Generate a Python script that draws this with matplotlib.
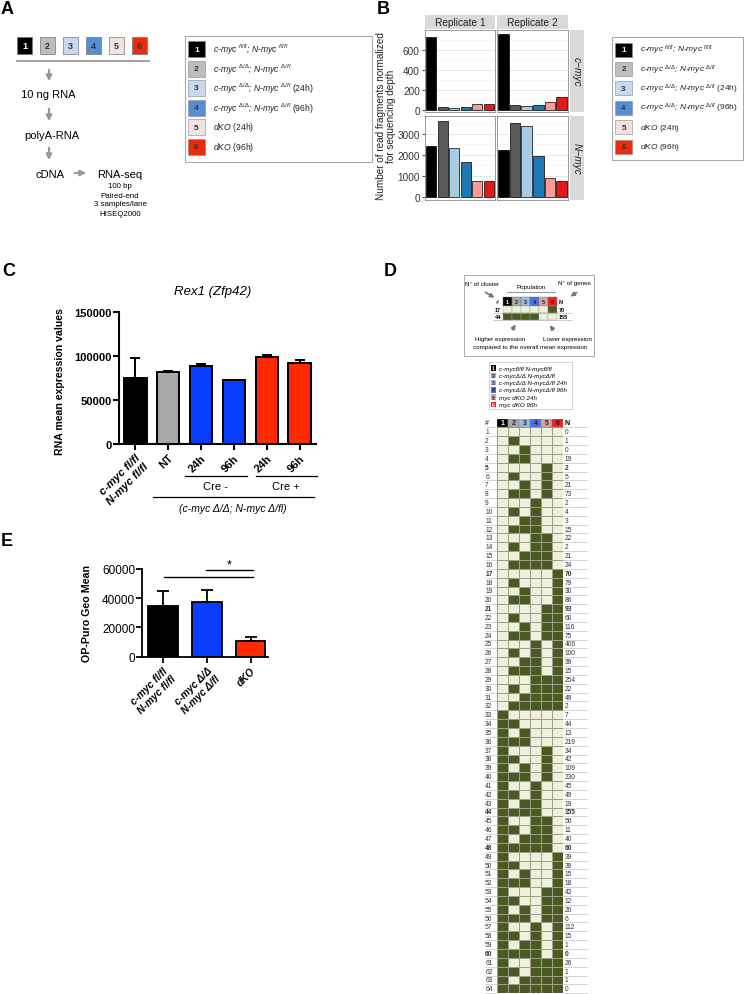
import numpy as np
import matplotlib
matplotlib.use("Agg")
import matplotlib.pyplot as plt
from matplotlib.patches import Rectangle
from matplotlib.colors import ListedColormap

# =========================
# SETTINGS
# =========================
W, H = 744, 995

plt.rcParams["font.family"] = ["Liberation Sans", "DejaVu Sans"]
plt.rcParams["mathtext.fontset"] = "custom"
plt.rcParams["mathtext.it"] = "Liberation Sans:italic"
plt.rcParams["mathtext.rm"] = "Liberation Sans"
plt.rcParams["mathtext.bf"] = "Liberation Sans:bold"

# =========================
# DATA
# =========================
GROUP_IDS = ["1", "2", "3", "4", "5", "6"]
A_COLORS = ["#000000", "#bdbdbd", "#c6d9f1", "#558ed5", "#f2e3e3", "#ee2a0c"]
GENOTYPE_LABELS = [
    r"c-myc $^{fl/fl}$; N-myc $^{fl/fl}$",
    r"c-myc $^{\Delta/\Delta}$; N-myc $^{\Delta/fl}$",
    r"c-myc $^{\Delta/\Delta}$; N-myc $^{\Delta/fl}$ $\mathrm{(24h)}$",
    r"c-myc $^{\Delta/\Delta}$; N-myc $^{\Delta/fl}$ $\mathrm{(96h)}$",
    r"dKO $\mathrm{(24h)}$",
    r"dKO $\mathrm{(96h)}$",
]

B_REPLICATES = ["Replicate 1", "Replicate 2"]
B_GENES = ["c\u2212myc", "N\u2212myc"]
B_CMYC_REP1 = [729, 25, 22, 24, 56, 60]
B_CMYC_REP2 = [759, 46, 36, 50, 73, 126]
B_NMYC_REP1 = [2430, 3620, 2300, 1635, 760, 730]
B_NMYC_REP2 = [2240, 3490, 3365, 1950, 870, 760]
B_COLORS = ["#000000", "#5a5a5a", "#a6cbe3", "#1f78b4", "#fb9a99", "#e31a1c"]

C_LABELS = ["c-myc fl/fl\nN-myc fl/fl", "NT", "24h", "96h", "24h", "96h"]
C_MEANS = [74700, 82200, 89400, 73100, 98900, 91700]
C_ERR = [22700, 1100, 1500, 0, 1900, 4500]
C_COLORS = ["#000000", "#a9a9ab", "#0a3cff", "#0a3cff", "#ff2a00", "#ff2a00"]

E_LABELS = ["c-myc fl/fl\nN-myc fl/fl", "c-myc \u0394/\u0394\nN-myc \u0394/fl", "dKO"]
E_MEANS = [34700, 37600, 10900]
E_ERR = [10300, 8000, 2400]
E_COLORS = ["#000000", "#0a3cff", "#ff2a00"]

D_COLORS = ["#000000", "#a8a8a8", "#9db7e3", "#4271ea", "#d9a3a3", "#ef1f22"]
D_LEGEND = [
    "c-mycfl/fl N-mycfl/fl",
    "c-myc\u0394/\u0394 N-myc\u0394/fl",
    "c-myc\u0394/\u0394 N-myc\u0394/fl 24h",
    "c-myc\u0394/\u0394 N-myc\u0394/fl 96h",
    "myc dKO 24h",
    "myc dKO 96h",
]

# columns 1..6 of each cluster row, 1 = dark cell
HEAT_PATTERNS = [
    "000000", "010000", "001000", "011000", "000010", "010010", "001010", "011010",
    "000100", "010100", "001100", "011100", "000110", "010110", "001110", "011110",
    "000001", "010001", "001001", "011001", "000011", "010011", "001011", "011011",
    "000101", "010101", "001101", "011101", "000111", "010111", "001111", "011111",
    "100000", "110000", "101000", "111000", "100010", "110010", "101010", "111010",
    "100100", "110100", "101100", "111100", "100110", "110110", "101110", "111110",
    "100001", "110001", "101001", "111001", "100011", "110011", "101011", "111011",
    "100101", "110101", "101101", "111101", "100111", "110111", "101111", "111111",
]
HEAT_N = [
    0, 1, 0, 19, 2, 5, 21, 73, 2, 4, 3, 15, 22, 2, 21, 24,
    70, 79, 30, 86, 93, 60, 116, 75, 406, 100, 39, 15, 254, 22, 49, 2,
    7, 44, 13, 219, 34, 42, 109, 230, 45, 49, 19, 155, 56, 11, 40, 60,
    39, 39, 15, 18, 42, 12, 20, 6, 112, 15, 1, 0, 26, 1, 1, 0,
]
HEAT_BOLD = [5, 17, 21, 44, 48, 60]

GREEN_DARK = "#4b5a22"
GREEN_LIGHT = "#eef0dc"


# =========================
# HELPERS
# =========================
def px_axes(fig, x0, y0, x1, y1):
    return fig.add_axes([x0 / W, 1 - y1 / H, (x1 - x0) / W, (y1 - y0) / H])


def down_arrow(ax, x, y0, y1, color="#999999"):
    ax.annotate("", xy=(x, y1), xytext=(x, y0),
                arrowprops=dict(arrowstyle="-|>", color=color, lw=1.6, mutation_scale=8))


fig = plt.figure(figsize=(W / 100, H / 100), dpi=100)
canvas = fig.add_axes([0, 0, 1, 1])
canvas.set_xlim(0, W)
canvas.set_ylim(H, 0)
canvas.axis("off")

for lab, (lx, ly) in zip("ABCDE", [(7, 9), (383, 9), (9, 272), (390, 272), (7, 541)]):
    canvas.text(lx, ly, lab, fontsize=13, fontweight="bold", ha="center", va="center")

# =========================
# PANEL A
# =========================
for i, (gid, col) in enumerate(zip(GROUP_IDS, A_COLORS)):
    x0 = 17 + i * 23
    canvas.add_patch(Rectangle((x0, 38), 15, 17, facecolor=col, edgecolor="#777777", lw=0.5))
    canvas.text(x0 + 7.5, 46.5, gid, ha="center", va="center", fontsize=6.5,
                fontweight="bold", color="white" if i == 0 else "#333333")
canvas.plot([17, 149], [62, 62], color="#999999", lw=1.3)
down_arrow(canvas, 49, 68, 85)
canvas.text(48.5, 95, "10 ng RNA", ha="center", va="center", fontsize=8)
down_arrow(canvas, 49, 107, 125)
canvas.text(52, 136, "polyA-RNA", ha="center", va="center", fontsize=8)
down_arrow(canvas, 49, 146, 164)
canvas.text(50, 175, "cDNA", ha="center", va="center", fontsize=8)
canvas.annotate("", xy=(89, 174), xytext=(72, 174),
                arrowprops=dict(arrowstyle="-|>", color="#999999", lw=1.6, mutation_scale=8))
canvas.text(120, 175, "RNA-seq", ha="center", va="center", fontsize=8)
for k, line in enumerate(["100 bp", "Paired-end", "3 samples/lane", "HISEQ2000"]):
    canvas.text(120, 187 + k * 9, line, ha="center", va="center", fontsize=5.7)

# legend A
canvas.add_patch(Rectangle((185, 37), 187, 126, fill=False, edgecolor="#aaaaaa", lw=0.8))
for i, (gid, col) in enumerate(zip(GROUP_IDS, A_COLORS)):
    yc = 50 + i * 19.5
    canvas.add_patch(Rectangle((188, yc - 8), 17, 16, facecolor=col, edgecolor="#888888", lw=0.4))
    canvas.text(196.5, yc, gid, ha="center", va="center", fontsize=6, fontweight="bold",
                color="white" if i == 0 else "#333333")
    canvas.text(213, yc, GENOTYPE_LABELS[i], ha="left", va="center", fontsize=6.2,
                style="italic", color="#222222")

# =========================
# PANEL B
# =========================
B_VALUES = [[B_CMYC_REP1, B_CMYC_REP2], [B_NMYC_REP1, B_NMYC_REP2]]
panel_x = [(425, 495), (497, 568)]
panel_y = [(31, 113), (117, 201)]
zero_px = [110.7, 197.7]
px_per_unit = [0.1, 0.021]
yticks_b = [[0, 200, 400, 600], [0, 1000, 2000, 3000]]
xpos = np.arange(1, len(B_COLORS) + 1)

for r in range(2):
    y0, y1 = panel_y[r]
    lo = -(y1 - zero_px[r]) / px_per_unit[r]
    hi = (zero_px[r] - y0) / px_per_unit[r]
    step = yticks_b[r][1] - yticks_b[r][0]
    for c in range(2):
        x0, x1 = panel_x[c]
        ax = px_axes(fig, x0, y0, x1, y1)
        ax.bar(xpos, B_VALUES[r][c], width=0.9, color=B_COLORS, edgecolor="black",
               linewidth=0.5, zorder=3)
        ax.set_xlim(0.45, 6.55)
        ax.set_ylim(lo, hi)
        ax.set_yticks(yticks_b[r])
        ax.set_yticks([t + step / 2 for t in yticks_b[r]], minor=True)
        ax.grid(axis="y", which="major", color="#e3e3e3", lw=0.6, zorder=0)
        ax.grid(axis="y", which="minor", color="#f2f2f2", lw=0.4, zorder=0)
        ax.set_xticks([])
        for sp in ax.spines.values():
            sp.set_color("#8a8a8a")
            sp.set_linewidth(0.6)
        ax.tick_params(axis="y", which="minor", length=0)
        if c == 0:
            ax.tick_params(axis="y", labelsize=7.2, length=2.5, color="#555555", pad=1.2,
                           labelcolor="#333333")
        else:
            ax.tick_params(axis="y", left=False, labelleft=False)

for c, name in enumerate(B_REPLICATES):
    x0, x1 = panel_x[c]
    canvas.add_patch(Rectangle((x0, 16), x1 - x0, 13.5, facecolor="#d9d9d9", edgecolor="none"))
    canvas.text((x0 + x1) / 2, 22.8, name, ha="center", va="center", fontsize=7.3, color="#222222")
for r, gene in enumerate(B_GENES):
    y0, y1 = panel_y[r]
    canvas.add_patch(Rectangle((570, y0), 14, y1 - y0, facecolor="#d9d9d9", edgecolor="none"))
    canvas.text(577, (y0 + y1) / 2, gene, ha="center", va="center", fontsize=7.3,
                rotation=-90, style="italic", color="#222222")
canvas.text(386, 116, "Number of read fragments normalized\nfor sequencing depth",
            rotation=90, ha="center", va="center", fontsize=7.2, linespacing=0.95, color="#222222")

# legend B
canvas.add_patch(Rectangle((612, 38), 131, 123, fill=False, edgecolor="#aaaaaa", lw=0.8))
for i, (gid, col) in enumerate(zip(GROUP_IDS, A_COLORS)):
    yc = 50.5 + i * 19.4
    canvas.add_patch(Rectangle((615, yc - 7), 17, 14, facecolor=col, edgecolor="#888888", lw=0.4))
    canvas.text(623.5, yc, gid, ha="center", va="center", fontsize=5.8, fontweight="bold",
                color="white" if i == 0 else "#333333")
    canvas.text(640, yc, GENOTYPE_LABELS[i], ha="left", va="center", fontsize=6.0,
                style="italic", color="#222222")

# =========================
# PANEL C
# =========================
axc = px_axes(fig, 119, 313.3, 316, 445)
xc = np.arange(len(C_LABELS))
axc.bar(xc, C_MEANS, width=0.68, color=C_COLORS, edgecolor="black", linewidth=1.4,
        yerr=[np.zeros(len(C_ERR)), C_ERR], capsize=3.5,
        error_kw=dict(elinewidth=1.4, capthick=1.4, ecolor="black"), zorder=2)
axc.set_xlim(-0.5, 5.5)
axc.set_ylim(0, 150000)
axc.set_yticks([0, 50000, 100000, 150000])
axc.set_xticks(xc)
axc.set_xticklabels(C_LABELS, rotation=45, ha="right", rotation_mode="anchor",
                    fontweight="bold", fontsize=8)
axc.get_xticklabels()[0].set_style("italic")
for lbl in axc.get_yticklabels():
    lbl.set_fontweight("bold")
axc.tick_params(axis="y", labelsize=8, width=1.5, length=4, pad=1)
axc.tick_params(axis="x", width=1.5, length=4, pad=2)
axc.spines["top"].set_visible(False)
axc.spines["right"].set_visible(False)
axc.spines["left"].set_linewidth(1.5)
axc.spines["bottom"].set_linewidth(1.5)
canvas.text(213, 292, "Rex1 (Zfp42)", ha="center", va="center", fontsize=9.5, style="italic")
canvas.text(60, 382, "RNA mean expression values", rotation=90, ha="center", va="center",
            fontsize=7.6, fontweight="bold")

yfrac = lambda py: (445 - py) / (445 - 313.3)
tr = axc.get_xaxis_transform()
for xa, xb, py in [(1.51, 3.4, 477), (3.67, 5.53, 477), (0.53, 5.44, 498)]:
    axc.plot([xa, xb], [yfrac(py)] * 2, color="black", lw=0.9, transform=tr, clip_on=False)
axc.text(2.45, yfrac(487), "Cre -", transform=tr, ha="center", va="center", fontsize=8)
axc.text(4.59, yfrac(487), "Cre +", transform=tr, ha="center", va="center", fontsize=8)
axc.text(2.97, yfrac(508.5), "(c-myc \u0394/\u0394; N-myc \u0394/fl)", transform=tr,
         ha="center", va="center", fontsize=7.5, style="italic")

# =========================
# PANEL E
# =========================
axe = px_axes(fig, 142, 570, 268, 657.7)
xe = np.arange(len(E_LABELS))
axe.bar(xe, E_MEANS, width=0.68, color=E_COLORS, edgecolor="black", linewidth=1.3,
        yerr=[np.zeros(len(E_ERR)), E_ERR], capsize=4,
        error_kw=dict(elinewidth=1.3, capthick=1.3, ecolor="black"), zorder=2)
axe.set_xlim(-0.48, 2.4)
axe.set_ylim(0, 60000)
axe.set_yticks([0, 20000, 40000, 60000])
axe.set_xticks(xe)
axe.set_xticklabels(E_LABELS, rotation=45, ha="right", rotation_mode="anchor",
                    fontweight="bold", style="italic", fontsize=7.3)
axe.tick_params(axis="y", labelsize=8.5, width=1.3, length=4, pad=1)
axe.tick_params(axis="x", width=1.3, length=4, pad=2)
axe.spines["top"].set_visible(False)
axe.spines["right"].set_visible(False)
axe.spines["left"].set_linewidth(1.3)
axe.spines["bottom"].set_linewidth(1.3)
axe.plot([0.02, 2.05], [54700, 54700], color="black", lw=1.0, clip_on=False)
axe.plot([0.98, 2.05], [59300, 59300], color="black", lw=1.0, clip_on=False)
axe.text(1.52, 63000, "*", ha="center", va="center", fontsize=9, clip_on=False)
canvas.text(87, 613, "OP-Puro Geo Mean", rotation=90, ha="center", va="center",
            fontsize=7.7, fontweight="bold")

# =========================
# PANEL D - explanation box
# =========================
canvas.add_patch(Rectangle((464, 276), 130, 81, fill=False, edgecolor="#aaaaaa", lw=0.7))
canvas.text(465, 284, "N\u00b0 of cluster", fontsize=4.5, ha="left", va="center")
canvas.text(591, 284, "N\u00b0 of genes", fontsize=4.5, ha="right", va="center")
canvas.text(531, 288, "Population", fontsize=4.5, ha="center", va="center")
canvas.plot([507, 555], [293, 293], color="#999999", lw=0.8)
for (xa, ya), (xb, yb) in [((483, 292), (497, 300)), ((579, 292), (568, 299)),
                           ((511, 333), (517, 323)), ((555, 333), (548, 324))]:
    canvas.annotate("", xy=(xb, yb), xytext=(xa, ya),
                    arrowprops=dict(arrowstyle="-|>", color="#777777", lw=1.2, mutation_scale=6))
canvas.text(497, 302.5, "#", fontsize=4, ha="center", va="center")
canvas.text(559, 302.5, "N", fontsize=4, ha="left", va="center", fontweight="bold")
for j, col in enumerate(D_COLORS):
    canvas.add_patch(Rectangle((503 + j * 9, 298), 9, 9, facecolor=col, edgecolor="#777777", lw=0.3))
    canvas.text(507.5 + j * 9, 302.5, GROUP_IDS[j], fontsize=4, ha="center", va="center",
                fontweight="bold", color="white" if j == 0 else "#222222")
for k, row in enumerate([17, 44]):
    ytop = 307 + k * 7
    canvas.text(501, ytop + 3.5, str(row), fontsize=4, ha="right", va="center", fontweight="bold")
    canvas.text(559, ytop + 3.5, str(HEAT_N[row - 1]), fontsize=4, ha="left", va="center",
                fontweight="bold")
    for j, ch in enumerate(HEAT_PATTERNS[row - 1]):
        canvas.add_patch(Rectangle((503 + j * 9, ytop), 9, 7,
                                   facecolor=GREEN_DARK if ch == "1" else GREEN_LIGHT,
                                   edgecolor="#999988", lw=0.3))
    canvas.plot([493, 572], [ytop + 7, ytop + 7], color="#aaaaaa", lw=0.4)
canvas.text(500, 339, "Higher expression", fontsize=4.5, ha="center", va="center")
canvas.text(567, 339, "Lower expression", fontsize=4.5, ha="center", va="center")
canvas.text(530, 347, "compared to the overall mean expression", fontsize=4.5, ha="center", va="center")

# legend D
canvas.add_patch(Rectangle((489, 363), 83, 47, fill=False, edgecolor="#cccccc", lw=0.6))
for i, (gid, col) in enumerate(zip(GROUP_IDS, D_COLORS)):
    yc = 369 + i * 7.3
    canvas.add_patch(Rectangle((491, yc - 2.8), 5, 5.6, facecolor=col, edgecolor="none"))
    canvas.text(493.5, yc, gid, fontsize=3.5, ha="center", va="center",
                color="white" if i in (0, 5) else "#222222", fontweight="bold")
    canvas.text(499, yc, D_LEGEND[i], fontsize=4.5, ha="left", va="center", style="italic")

# =========================
# PANEL D - heatmap
# =========================
n_rows = len(HEAT_PATTERNS)
row_h = 8.84
top = 424 - row_h / 2
axh = px_axes(fig, 497.3, top, 563.3, top + (n_rows + 1) * row_h)
mat = np.array([[int(ch) for ch in p] for p in HEAT_PATTERNS])
xe_h = np.arange(0.5, 7.0, 1.0)
ye_h = np.arange(0.5, n_rows + 1.0, 1.0)
axh.pcolormesh(xe_h, ye_h, mat, cmap=ListedColormap([GREEN_LIGHT, GREEN_DARK]),
               edgecolors="#9d9d8a", linewidth=0.4, vmin=0, vmax=1)
axh.set_xlim(0.5, 6.5)
axh.set_ylim(n_rows + 0.5, -0.5)
axh.axis("off")
for j, col in enumerate(D_COLORS):
    axh.add_patch(Rectangle((j + 0.5, -0.5), 1, 1, facecolor=col, edgecolor="#888888", lw=0.3))
    axh.text(j + 1, 0, GROUP_IDS[j], fontsize=5, ha="center", va="center", fontweight="bold",
             color="white" if j == 0 else "#222222")
axh.text(-0.45, 0, "#", fontsize=5, ha="center", va="center", clip_on=False)
axh.text(6.65, 0, "N", fontsize=5, ha="left", va="center", fontweight="bold", clip_on=False)
for i in range(n_rows):
    rid = i + 1
    weight = "bold" if rid in HEAT_BOLD else "normal"
    axh.text(-0.6, rid, str(rid), fontsize=4.8, ha="left", va="center", fontweight=weight,
             clip_on=False, color="#333333")
    axh.text(6.65, rid, str(HEAT_N[i]), fontsize=4.8, ha="left", va="center", fontweight=weight,
             clip_on=False, color="#333333")
for edge in np.arange(0.5, n_rows + 1.0, 1.0):
    axh.plot([-0.65, 0.5], [edge, edge], color="#b5b5b5", lw=0.4, clip_on=False)
    axh.plot([6.5, 8.7], [edge, edge], color="#b5b5b5", lw=0.4, clip_on=False)

fig.savefig("out.png", dpi=100)
